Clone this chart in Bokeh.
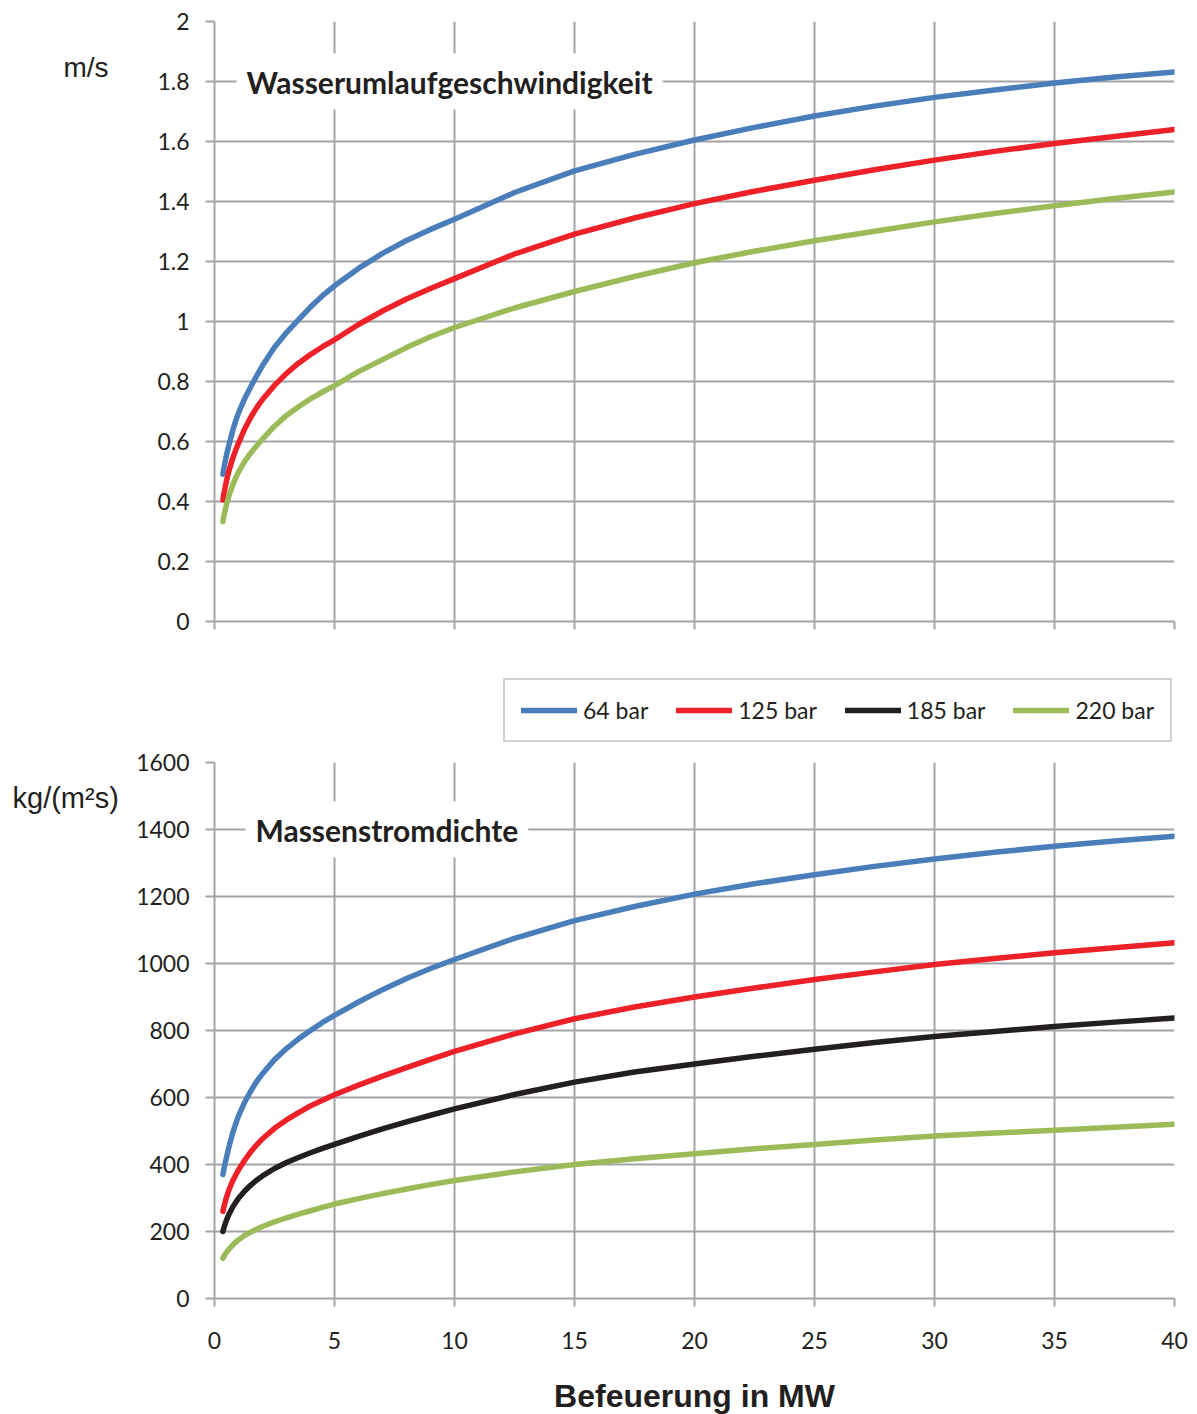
from bokeh.plotting import figure
from bokeh.layouts import column, row
from bokeh.models import Range1d, FixedTicker, NumeralTickFormatter, Label, Legend, LegendItem
from bokeh.embed import file_html
from bokeh.resources import INLINE

# Befeuerung in MW
mw = [0.35, 0.4, 0.5, 0.6, 0.75, 0.9, 1.0, 1.25, 1.5, 1.75, 2, 2.5, 3, 3.5, 4, 4.5, 5,
      6, 7, 8, 9, 10, 12.5, 15, 17.5, 20, 22.5, 25, 27.5, 30, 32.5, 35, 37.5, 40]

# Wasserumlaufgeschwindigkeit in m/s
v_64 = [0.491, 0.515, 0.555, 0.588, 0.634, 0.673, 0.695, 0.742, 0.781, 0.818, 0.853, 0.914, 0.963,
        1.006, 1.048, 1.086, 1.119, 1.177, 1.227, 1.27, 1.307, 1.341, 1.43, 1.502, 1.557, 1.605,
        1.647, 1.685, 1.718, 1.747, 1.772, 1.795, 1.815, 1.832]
v_125 = [0.405, 0.429, 0.469, 0.502, 0.542, 0.575, 0.594, 0.641, 0.679, 0.712, 0.740, 0.787, 0.827,
         0.861, 0.890, 0.916, 0.939, 0.99, 1.035, 1.075, 1.11, 1.143, 1.225, 1.291, 1.345, 1.393,
         1.434, 1.471, 1.506, 1.538, 1.567, 1.593, 1.617, 1.64]
v_220 = [0.333, 0.355, 0.390, 0.419, 0.454, 0.482, 0.498, 0.533, 0.561, 0.585, 0.608, 0.651, 0.687,
         0.716, 0.742, 0.765, 0.786, 0.833, 0.873, 0.913, 0.949, 0.98, 1.045, 1.10, 1.15, 1.196,
         1.234, 1.269, 1.301, 1.332, 1.36, 1.386, 1.41, 1.432]

# Massenstromdichte in kg/(m2 s)
g_64 = [370, 389, 421, 452, 492, 525, 545, 585, 618, 647, 671, 713, 746, 775, 800, 824, 845,
        885, 922, 955, 985, 1012, 1075, 1128, 1170, 1207, 1238, 1265, 1290, 1312, 1332, 1350, 1366, 1380]
g_125 = [260, 276, 302, 324, 350, 371, 384, 412, 437, 458, 477, 508, 533, 555, 575, 592, 608,
         637, 664, 689, 714, 738, 790, 835, 870, 900, 927, 952, 975, 997, 1015, 1032, 1047, 1062]
g_185 = [200, 213, 234, 251, 272, 289, 299, 320, 338, 353, 366, 388, 406, 421, 435, 448, 460,
         484, 506, 527, 547, 566, 609, 646, 676, 700, 723, 744, 764, 782, 797, 812, 825, 837]
g_220 = [120, 127, 138, 147, 159, 169, 175, 188, 198, 207, 215, 229, 241, 252, 262, 272, 282,
         298, 313, 327, 340, 352, 378, 400, 417, 432, 447, 460, 473, 485, 494, 502, 511, 520]

series_names = ["64 bar", "125 bar", "185 bar", "220 bar"]
colors = ["#4A7EBB", "#EE2028", "#231F20", "#9BBB59"]

x_ticks = [0, 5, 10, 15, 20, 25, 30, 35, 40]
v_ticks = [0, 0.2, 0.4, 0.6, 0.8, 1.0, 1.2, 1.4, 1.6, 1.8, 2.0]
g_ticks = [0, 200, 400, 600, 800, 1000, 1200, 1400, 1600]

GRID = "#A3A3A7"
TXT = "#231F20"
TICK_FONT = "Lato"
LW = 5.5


def style(p, yticks, yfmt, show_x_labels):
    p.xaxis.ticker = FixedTicker(ticks=x_ticks)
    p.yaxis.ticker = FixedTicker(ticks=yticks)
    p.yaxis.formatter = NumeralTickFormatter(format=yfmt)
    p.xgrid.ticker = FixedTicker(ticks=x_ticks)
    p.ygrid.ticker = FixedTicker(ticks=yticks)
    for g in (p.xgrid[0], p.ygrid[0]):
        g.grid_line_color = GRID
        g.grid_line_width = 2
    for ax in (p.xaxis[0], p.yaxis[0]):
        ax.axis_line_color = GRID
        ax.axis_line_width = 2
        ax.major_tick_line_color = GRID
        ax.major_tick_line_width = 2
        ax.major_tick_in = 0
        ax.minor_tick_line_color = None
        ax.major_label_text_font = TICK_FONT
        ax.major_label_text_font_size = "23px"
        ax.major_label_text_color = TXT
    p.yaxis.major_tick_out = 9
    p.yaxis.major_label_standoff = 16
    p.xaxis.major_tick_out = 8
    if show_x_labels:
        p.xaxis.major_label_standoff = 25
    else:
        p.xaxis.major_label_text_color = None
        p.xaxis.major_label_text_font_size = "8px"
        p.xaxis.major_label_standoff = 0
    p.outline_line_color = None
    p.background_fill_color = "white"
    p.border_fill_color = "white"


def blank(width, height, xr, yr):
    f = figure(width=width, height=height, min_border=0, x_range=xr, y_range=yr,
               x_axis_type=None, y_axis_type=None,
               output_backend="svg", toolbar_location=None)
    f.grid.visible = False
    f.outline_line_color = None
    f.background_fill_color = "white"
    f.border_fill_color = "white"
    return f


# ---------- top chart ----------
p1 = figure(frame_width=960, frame_height=600, min_border_left=89, min_border_right=15,
            min_border_top=21, min_border_bottom=29,
            x_range=Range1d(0, 40), y_range=Range1d(0, 2),
            output_backend="svg", toolbar_location=None)
style(p1, v_ticks, "0.[0]", False)
for ys, c in zip([v_64, v_125, v_220], [colors[0], colors[1], colors[3]]):
    p1.line(mw, ys, line_color=c, line_width=LW, line_cap="round", line_join="round")

p1.add_layout(Label(x=0.92, y=1.8, text="Wasserumlaufgeschwindigkeit", text_font="Lato",
                    text_font_style="bold", text_font_size="30px", text_color=TXT,
                    text_baseline="middle", background_fill_color="white", padding=10))

# ---------- legend strip (same series, ranges chosen so the lines stay out of view) ----------
mid = blank(1064, 97, Range1d(0, 1), Range1d(0, 1))
leg_renderers = []
for ys, c in zip([g_64, g_125, g_185, g_220], colors):
    leg_renderers.append(mid.line(mw, ys, line_color=c, line_width=LW, line_cap="round"))
legend = Legend(items=[LegendItem(label=n, renderers=[r]) for n, r in zip(series_names, leg_renderers)],
                orientation="horizontal", location=(289, 5), margin=0, padding=16,
                spacing=28, glyph_width=56, glyph_height=16, label_height=16, label_standoff=6,
                label_text_font=TICK_FONT, label_text_font_size="23px", label_text_color=TXT,
                label_text_baseline="middle",
                border_line_color=GRID, border_line_width=2, background_fill_color="white")
mid.add_layout(legend, "center")

# ---------- bottom chart ----------
p2 = figure(frame_width=960, frame_height=536, min_border_left=89, min_border_right=15,
            min_border_top=15, min_border_bottom=110,
            x_range=Range1d(0, 40), y_range=Range1d(0, 1600),
            output_backend="svg", toolbar_location=None)
style(p2, g_ticks, "0", True)
for ys, c in zip([g_64, g_125, g_185, g_220], colors):
    p2.line(mw, ys, line_color=c, line_width=LW, line_cap="round", line_join="round")

p2.xaxis.axis_label = "Befeuerung in MW"
p2.xaxis.axis_label_text_font = "Liberation Sans"
p2.xaxis.axis_label_text_font_style = "bold"
p2.xaxis.axis_label_text_font_size = "32px"
p2.xaxis.axis_label_text_color = TXT
p2.xaxis.axis_label_standoff = 26

p2.add_layout(Label(x=1.29, y=1400, text="Massenstromdichte", text_font="Lato",
                    text_font_style="bold", text_font_size="30px", text_color=TXT,
                    text_baseline="middle", background_fill_color="white", padding=10))

# ---------- unit labels at the left ----------
left = blank(125, 1408, Range1d(0, 125), Range1d(0, 1408))
left.add_layout(Label(x=63, y=1341, x_units="screen", y_units="screen", text="m/s",
                      text_font="Liberation Sans", text_font_size="28px", text_color=TXT,
                      text_baseline="middle"))
left.add_layout(Label(x=12, y=611, x_units="screen", y_units="screen", text="kg/(m²s)",
                      text_font="Liberation Sans", text_font_size="29px", text_color=TXT,
                      text_baseline="middle"))

layout = row(left, column(p1, mid, p2, spacing=0), spacing=0)
open("out.html", "w").write(file_html(layout, INLINE))
